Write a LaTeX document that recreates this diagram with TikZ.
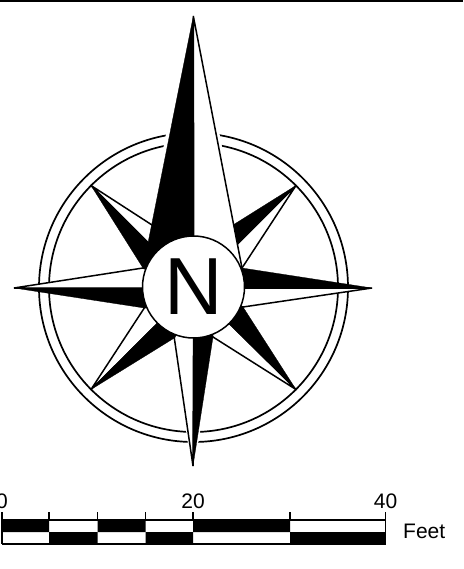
\documentclass[tikz,border=0pt]{standalone}
\usepackage{fontspec}
\setmainfont{Liberation Sans}
\tikzset{
  ink/.style={line width=1.5pt,line join=miter,miter limit=8},
  blackpart/.style={fill=black,draw=black,line width=0.3pt,line join=miter},
  whitepart/.style={fill=white,draw=black,ink},
  ringline/.style={draw=black,line width=1.7pt},
  barline/.style={line width=1.4pt,draw=black},
  barlabel/.style={inner sep=0pt,anchor=base,font=\fontsize{21}{21}\selectfont}
}
\begin{document}
\begin{tikzpicture}[x=1pt,y=-1pt]
\useasboundingbox (0,0) rectangle (463,569);
\fill[white] (0,0) rectangle (463,569);
\fill[black] (0,0) rectangle (463,1.6);
\coordinate (c) at (193.5,287.5);
\coordinate (m) at (193.8,288);
% rings
\draw[ringline] (c) circle[radius=154.5];
\draw[ringline] (c) circle[radius=144.5];
% white margin where the north and south rays cross the rings
\draw[white,line width=7pt] (193,16) -- (242,268) (193,16) -- (148,243);
\draw[white,line width=3.5pt] (193,466) -- (174.3,338) (193,466) -- (213,337);
% diagonal rays
\fill[whitepart] (91,185.5) -- (152,225) -- (m) -- cycle;
\fill[blackpart] (91,185.5) -- (m) -- (143,268) -- cycle;
\fill[whitepart] (296,185.5) -- (m) -- (242,268) -- cycle;
\fill[blackpart] (296,185.5) -- (233,225) -- (m) -- (236,245) -- cycle;
\fill[whitepart] (296,389.5) -- (m) -- (213,337) -- cycle;
\fill[blackpart] (296,389.5) -- (243,307) -- (m) -- (230,325) -- cycle;
\fill[whitepart] (91,389.5) -- (144.3,308) -- (m) -- cycle;
\fill[blackpart] (91,389.5) -- (155,325) -- (m) -- (174.3,338) -- cycle;
% main rays
\fill[whitepart] (193.3,16) -- (242,268) -- (m) -- cycle;
\fill[blackpart] (193.3,16) -- (m) -- (148,243) -- cycle;
\fill[whitepart] (14,288) -- (143,268) -- (m) -- cycle;
\fill[blackpart] (14,288) -- (m) -- (144.3,308) -- cycle;
\fill[whitepart] (372,288) -- (243,307) -- (m) -- cycle;
\fill[blackpart] (372,288) -- (m) -- (242,268) -- cycle;
\fill[whitepart] (193,466) -- (174.3,338) -- (m) -- cycle;
\fill[blackpart] (193,466) -- (m) -- (213,337) -- cycle;
% hub
\node[circle,draw=black,fill=white,line width=1.5pt,minimum size=102pt,inner sep=0pt,font=\fontsize{81}{81}\selectfont] (hub) at (193.5,287) {N};
% scale bar
\fill[black] (2,520) rectangle (49,532) (97.5,520) rectangle (145.5,532) (193,520) rectangle (290,532);
\fill[black] (49,532) rectangle (97.5,544) (145.5,532) rectangle (193,544) (290,532) rectangle (385.5,544);
\draw[barline] (2,520) -- (385.5,520);
\draw[barline] (2,544) -- (385.5,544);
\foreach \x in {2,49,97.5,145.5,193,290,385.5}{\draw[barline] (\x,512) -- (\x,520);}
\draw[barline] (2,520) -- (2,544);
\draw[barline] (385.5,520) -- (385.5,544);
\node[barlabel] (l0) at (2,508) {0};
\node[barlabel] (l20) at (193,508) {20};
\node[barlabel] (l40) at (385.5,508) {40};
\node[barlabel,anchor=base west] (unit) at (403,538) {Feet};
\end{tikzpicture}
\end{document}
